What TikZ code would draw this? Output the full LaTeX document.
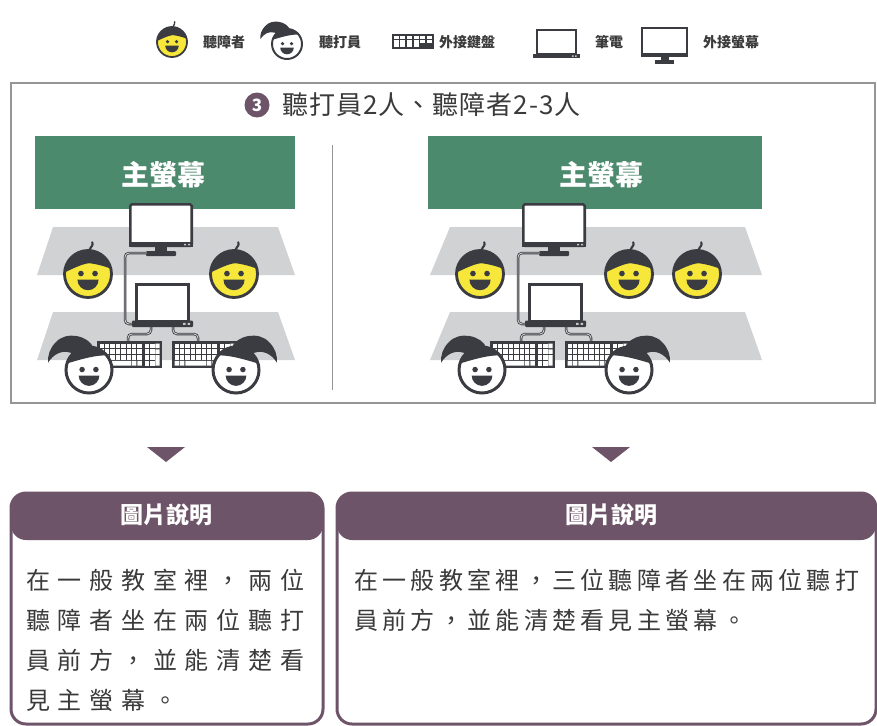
\documentclass[tikz,border=0pt]{standalone}
\usepackage{fontspec}
\setmainfont{Noto Sans CJK TC}

\definecolor{icondark}{RGB}{58,60,66}
\definecolor{facey}{RGB}{246,231,58}
\definecolor{bandgray}{RGB}{209,210,212}
\definecolor{screengreen}{RGB}{76,138,110}
\definecolor{purpc}{RGB}{110,84,104}
\definecolor{textc}{RGB}{58,58,58}
\definecolor{framec}{RGB}{150,150,150}

% characters of #2 set one by one with a gap of #1 after each
\newcommand\spaced[2]{\def\spgap{#1}\spacedloop#2\relax}
\def\spacedloop#1{\ifx\relax#1\else#1\hspace{\spgap}\expandafter\spacedloop\fi}

% yellow face: centre (#1,#2), radius #3
\newcommand\yface[3]{%
  \begin{scope}[shift={(#1,#2)}, x=#3pt, y=#3pt]
    \fill[facey] (0,0) circle (1);
    \begin{scope}
      \clip (0,0) circle (1);
      \fill[icondark] (-1.1,0.02) .. controls (-0.7,0.2) and (-0.3,0.42) .. (0.05,0.46)
        .. controls (0.4,0.42) and (0.75,0.32) .. (1.1,0.18) -- (1.1,1.1) -- (-1.1,1.1) -- cycle;
    \end{scope}
    \draw[icondark, line width=0.12*#3pt] (0,0) circle (1);
    \draw[icondark, line width=0.09*#3pt, line cap=round] (0.05,0.98) .. controls (0.1,1.18) and (0.25,1.2) .. (0.18,1.35);
    \fill[icondark] (-0.3,0.02) circle (0.12) (0.3,0.02) circle (0.12);
    \fill[icondark] (-0.45,-0.24) -- (0.45,-0.24) arc[start angle=0, end angle=-180, radius=0.45] -- cycle;
  \end{scope}}

% girl face with ponytail: centre (#1,#2), radius #3, side #4 (1 = left, -1 = right)
\newcommand\gface[4]{%
  \begin{scope}[shift={(#1,#2)}, x=#3pt, y=#3pt, xscale=#4]
    \fill[icondark] (0.2,0.95) .. controls (0.0,1.5) and (-1.0,1.72) .. (-1.45,1.2)
      .. controls (-1.7,0.95) and (-1.8,0.65) .. (-1.78,0.32)
      .. controls (-1.55,0.68) and (-1.2,0.88) .. (-0.8,0.75) -- (-0.5,0.5) -- cycle;
    \fill[white] (0,0) circle (1);
    \begin{scope}
      \clip (0,0) circle (1);
      \fill[icondark] (-1.1,0.25) .. controls (-0.5,0.4) and (0.3,0.72) .. (1.1,0.62) -- (1.1,1.1) -- (-1.1,1.1) -- cycle;
    \end{scope}
    \draw[icondark, line width=0.13*#3pt] (0,0) circle (1);
    \fill[icondark] (-0.3,0.02) circle (0.12) (0.3,0.02) circle (0.12);
    \fill[icondark] (-0.45,-0.24) -- (0.45,-0.24) arc[start angle=0, end angle=-180, radius=0.45] -- cycle;
  \end{scope}}

% desktop monitor, top left corner (#1,#2)
\newcommand\deskmon[2]{%
  \begin{scope}[shift={(#1,#2)}]
    \draw[icondark, line width=2.6pt, fill=white, rounded corners=1.5pt] (1.3,1.3) rectangle (62.7,42.7);
    \fill[icondark] (0,39) rectangle (64,44);
    \fill[gray!45] (55,40.8) rectangle (57,42.4) (59,40.8) rectangle (61,42.4);
    \fill[icondark] (26,44) rectangle (38,48);
    \fill[icondark, rounded corners=1pt] (17,48) rectangle (47,53);
  \end{scope}}

% laptop, top left corner of the screen (#1,#2)
\newcommand\notebook[2]{%
  \begin{scope}[shift={(#1,#2)}]
    \draw[icondark, line width=2.6pt, fill=white] (1.3,1.3) rectangle (53.7,38);
    \fill[icondark, rounded corners=1pt] (-3,37.5) rectangle (58,44);
    \fill[gray!45] (48,39.8) rectangle (50.5,41.8) (52.5,39.8) rectangle (55,41.8);
  \end{scope}}

% keyboard, top left corner (#1,#2), 65 x 27
\newcommand\keyb[2]{%
  \begin{scope}[shift={(#1,#2)}]
    \fill[icondark] (0,0) rectangle (65,27);
    \foreach \i in {0,...,7}{\foreach \j in {0,1,2}{
      \fill[white] ({2.5+\i*5.4},{2.5+\j*5.8}) rectangle ++(4.5,4.6);}}
    \fill[white] (2.5,19.9) rectangle ++(4.5,4.6) (7.9,19.9) rectangle ++(4.5,4.6)
      (13.3,19.9) rectangle (34,24.5)
      (34.9,19.9) rectangle ++(4.5,4.6) (40.3,19.9) rectangle ++(4.5,4.6);
    \foreach \i in {0,1}{\foreach \j in {0,1,2,3}{
      \fill[white] ({48+\i*5.2},{2.5+\j*5.8}) rectangle ++(4.3,4.6);}}
    \fill[white] (58.4,2.5) rectangle ++(4.3,4.6) (58.4,8.3) rectangle ++(4.3,4.6)
      (58.4,14.1) rectangle (62.7,24.5);
  \end{scope}}

% monitor, laptop, cables and keyboards of one scene, shifted by #1
\newcommand\equipment[2]{%
  \begin{scope}[shift={(#1,0)}]
    \deskmon{129}{203}
    \coordinate (mon#2) at (147,253);
    \coordinate (lapin#2) at (132,324);
    \coordinate (lapa#2) at (151,327);
    \coordinate (lapb#2) at (173,327);
    \coordinate (kba#2) at (128,341);
    \coordinate (kbb#2) at (198,341);
    \draw[cable] (mon#2) -- (125,253) -- (125,324) -- (lapin#2);
    \draw[cable] (lapa#2) -- (151,334) -- (kba#2 |- 0,334) -- (kba#2);
    \draw[cable] (lapb#2) -- (173,334) -- (kbb#2 |- 0,334) -- (kbb#2);
    \notebook{135}{283}
    \keyb{97}{341}
    \keyb{172}{341}
    \gface{89}{370}{23}{1}
    \gface{236}{370}{23}{-1}
  \end{scope}}

\begin{document}
\begin{tikzpicture}[x=1pt, y=-1pt,
  cable/.style={draw=icondark, line width=0.8pt, double=gray!35, double distance=0.9pt, rounded corners=4pt},
  lbl/.style={anchor=west, inner sep=0pt, text=textc, font=\fontsize{14}{16}\selectfont\bfseries},
  band/.style={fill=bandgray},
  wall/.style={fill=screengreen},
  walltext/.style={text=white, inner sep=0pt, font=\fontsize{28}{32}\selectfont\bfseries},
  descbox/.style={draw=purpc, line width=3pt, fill=white, rounded corners=15pt, inner sep=0pt,
    anchor=north west,
    path picture={\fill[purpc] (path picture bounding box.north west) rectangle
      ([yshift=-47pt]path picture bounding box.north east);}},
  headtext/.style={text=white, inner sep=0pt, font=\fontsize{23}{27}\selectfont\bfseries},
  bodytext/.style={anchor=west, inner sep=0pt, text=textc, font=\fontsize{24}{28}\selectfont},
  marker/.style={fill=purpc}]

\useasboundingbox (0,0) rectangle (877,725);

% legend row
\yface{172}{42}{15}
\node[lbl] (lg1) at (203,42) {聽障者};
\gface{287}{44}{15}{1}
\node[lbl] (lg2) at (319,42) {聽打員};
\begin{scope}[shift={(392,34)}]
  \fill[icondark] (0,0) rectangle (42,15);
  \foreach \i in {0,...,5}{
    \fill[white] ({1.8+\i*6.6},1.8) rectangle ++(5,2.8);
    \fill[white] ({1.8+\i*6.6},5.8) rectangle ++(5,7.4);}
  \fill[icondark] (28,9.5) rectangle (42,15);
\end{scope}
\node[lbl] (lg3) at (439,42) {外接鍵盤};
\begin{scope}[shift={(533,29)}]
  \draw[icondark, line width=2pt, fill=white] (4,1) rectangle (43,25);
  \fill[icondark] (0,25) rectangle (47,29.5);
  \fill[gray!45] (39,26.5) rectangle (40.5,28) (42,26.5) rectangle (43.5,28);
\end{scope}
\node[lbl] (lg4) at (595,42) {筆電};
\begin{scope}[shift={(641,27)}]
  \draw[icondark, line width=2pt, fill=white] (1,1) rectangle (46,29);
  \fill[icondark] (0,26.5) rectangle (47,30);
  \fill[icondark] (19.5,30) rectangle (27.5,33);
  \fill[icondark] (14,33) rectangle (33,36.5);
\end{scope}
\node[lbl] (lg5) at (703,42) {外接螢幕};

% outer frame, title and divider
\draw[framec, line width=1.6pt] (11,83) rectangle (875,403);
\node[circle, fill=purpc, minimum size=25pt, inner sep=0pt, text=white,
  font=\fontsize{17}{19}\selectfont\bfseries] (num) at (257,105) {3};
\node[anchor=west, inner sep=0pt, text=textc, font=\fontsize{26}{30}\selectfont] (title)
  at (282,105) {\spaced{1pt}{聽打員2人、聽障者2-3人}};
\draw[framec, line width=1pt] (332,145) -- (332,390);

% left scene
\fill[band] (53,227) -- (278,227) -- (295,275) -- (37,275) -- cycle;
\fill[band] (53,312) -- (278,312) -- (295,360) -- (37,360) -- cycle;
\fill[wall] (35,136) rectangle (295,209);
\node[walltext] (wallL) at (163,175) {主螢幕};
\yface{88}{274}{23.5}
\yface{234}{274}{23.5}
\equipment{0}{L}

% right scene
\fill[band] (450,227) -- (745,227) -- (762,275) -- (430,275) -- cycle;
\fill[band] (450,312) -- (745,312) -- (762,360) -- (430,360) -- cycle;
\fill[wall] (428,136) rectangle (762,209);
\node[walltext] (wallR) at (601,175) {主螢幕};
\yface{480}{274}{23.5}
\yface{629}{274}{23.5}
\yface{697}{274}{23.5}
\equipment{393}{R}

% pointers
\fill[marker] (147,447) -- (185,447) -- (166,462) -- cycle;
\fill[marker] (592,447) -- (630,447) -- (611,462) -- cycle;

% description boxes
\node[descbox, minimum width=312pt, minimum height=231pt] (boxL) at (9.5,491.5) {};
\node[headtext] (headL) at (166,515) {圖片說明};
\node[bodytext] (l1) at (26,580) {\spaced{7.75pt}{在一般教室裡，兩位}};
\node[bodytext] (l2) at (26,620) {\spaced{7.75pt}{聽障者坐在兩位聽打}};
\node[bodytext] (l3) at (26,660) {\spaced{7.75pt}{員前方，並能清楚看}};
\node[bodytext] (l4) at (26,700) {\spaced{7.75pt}{見主螢幕。}};

\node[descbox, minimum width=539pt, minimum height=231pt] (boxR) at (335.5,491.5) {};
\node[headtext] (headR) at (611,515) {圖片說明};
\node[bodytext] (r1) at (354,580) {\spaced{4.3pt}{在一般教室裡，三位聽障者坐在兩位聽打}};
\node[bodytext] (r2) at (354,620) {\spaced{4.3pt}{員前方，並能清楚看見主螢幕。}};

\end{tikzpicture}
\end{document}
